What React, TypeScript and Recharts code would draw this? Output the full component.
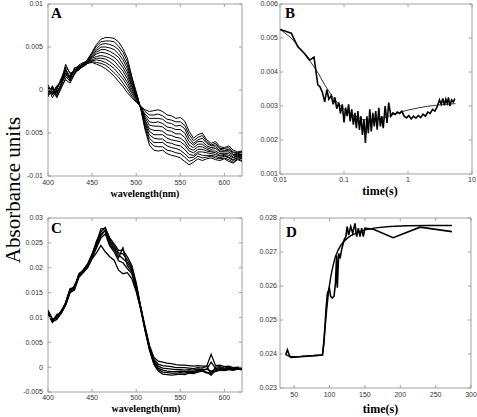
import { LineChart, Line, XAxis, YAxis, ReferenceArea } from 'recharts';

// absorbance values are kept in units of 1e-3 (tick labels show real units)
const wavelengths = [
  400, 405, 410, 415, 420, 425, 430, 435, 440, 445, 450, 455, 460, 465, 470, 475, 480, 485, 490, 495,
  500, 505, 510, 515, 520, 525, 530, 535, 540, 545, 550, 555, 560, 565, 570, 575, 580, 585, 590, 595,
  600, 605, 610, 615, 620,
];

// panel A: difference spectra
const spectraA = [
  [-0.3, 0.4, -0.6, 0.8, 1.6, 1.0, 2.0, 2.4, 2.8, 3.1, 3.2, 3.0, 2.8, 2.5, 2.1, 1.6, 1.0, 0.4, -0.3, -0.9,
    -1.4, -1.9, -2.3, -2.5, -2.4, -2.3, -2.5, -2.9, -3.0, -3.3, -3.2, -3.6, -4.8, -5.6, -5.2, -5.0, -5.8, -6.2, -6.0, -6.6,
    -6.7, -6.5, -7.0, -7.2, -7.1],
  [0.4, -0.2, 0.2, 1.2, 2.2, 1.5, 2.3, 2.7, 3.0, 3.2, 3.3, 3.2, 3.1, 2.9, 2.5, 2.0, 1.5, 0.8, 0.1, -0.7,
    -1.3, -1.9, -2.5, -2.9, -2.9, -2.8, -3.0, -3.4, -3.5, -3.7, -3.7, -4.1, -5.2, -5.9, -5.5, -5.3, -6.0, -6.4, -6.2, -6.8,
    -6.8, -6.7, -7.2, -7.3, -7.2],
  [-0.6, 0.5, -0.8, 0.3, 1.2, 0.8, 1.8, 2.5, 2.7, 3.1, 3.4, 3.5, 3.4, 3.2, 2.9, 2.5, 1.9, 1.3, 0.5, -0.4,
    -1.2, -2.0, -2.8, -3.3, -3.3, -3.3, -3.4, -3.8, -3.9, -4.2, -4.1, -4.5, -5.6, -6.2, -5.8, -5.6, -6.2, -6.5, -6.4, -6.9,
    -7.0, -6.9, -7.3, -7.4, -7.3],
  [0.1, -0.5, 0.4, 1.0, 3.0, 1.9, 2.1, 2.3, 3.1, 3.3, 3.5, 3.7, 3.7, 3.6, 3.3, 2.9, 2.4, 1.7, 0.9, -0.2,
    -1.0, -1.9, -3.0, -3.7, -3.8, -3.7, -3.9, -4.3, -4.4, -4.6, -4.6, -5.0, -6.0, -6.4, -6.0, -6.0, -6.5, -6.7, -6.6, -7.1,
    -7.1, -7.0, -7.5, -7.5, -7.5],
  [-0.8, 0.2, -0.3, 0.6, 1.8, 1.3, 2.5, 2.8, 2.9, 3.2, 3.7, 3.9, 4.0, 3.9, 3.7, 3.4, 2.8, 2.2, 1.3, 0.1,
    -0.9, -2.0, -3.2, -4.1, -4.2, -4.2, -4.3, -4.7, -4.8, -5.1, -5.1, -5.5, -6.4, -6.7, -6.3, -6.3, -6.7, -6.9, -6.8, -7.2,
    -7.2, -7.2, -7.6, -7.6, -7.6],
  [0.3, -0.9, 0.0, 1.4, 2.5, 1.1, 1.9, 2.6, 3.0, 3.3, 3.8, 4.2, 4.4, 4.3, 4.1, 3.8, 3.3, 2.6, 1.7, 0.4,
    -0.8, -2.0, -3.5, -4.5, -4.7, -4.7, -4.8, -5.2, -5.3, -5.5, -5.6, -6.0, -6.8, -7.0, -6.6, -6.6, -6.9, -7.1, -7.1, -7.4,
    -7.4, -7.4, -7.8, -7.7, -7.7],
  [-0.2, 0.1, -0.9, 0.2, 1.4, 1.7, 2.4, 2.4, 2.8, 3.4, 3.9, 4.4, 4.7, 4.7, 4.5, 4.2, 3.8, 3.0, 2.1, 0.6,
    -0.7, -2.0, -3.7, -4.8, -5.2, -5.2, -5.2, -5.6, -5.8, -5.9, -6.0, -6.4, -7.1, -7.3, -6.9, -6.9, -7.1, -7.2, -7.3, -7.6,
    -7.5, -7.6, -7.9, -7.7, -7.8],
  [0.6, -0.3, 0.5, 0.9, 2.0, 1.4, 2.2, 2.9, 3.2, 3.3, 4.0, 4.6, 5.0, 5.0, 4.9, 4.7, 4.2, 3.5, 2.5, 0.9,
    -0.6, -2.0, -3.9, -5.2, -5.6, -5.7, -5.7, -6.1, -6.2, -6.4, -6.5, -6.9, -7.5, -7.6, -7.2, -7.2, -7.3, -7.4, -7.5, -7.7,
    -7.6, -7.8, -8.1, -7.8, -7.9],
  [-0.5, 0.3, -0.4, 0.5, 2.7, 2.0, 2.0, 2.5, 2.9, 3.5, 4.2, 4.8, 5.3, 5.4, 5.3, 5.1, 4.7, 3.9, 2.9, 1.1,
    -0.4, -2.1, -4.1, -5.6, -6.1, -6.1, -6.1, -6.5, -6.7, -6.8, -7.0, -7.4, -7.9, -7.8, -7.4, -7.6, -7.6, -7.6, -7.7, -7.9,
    -7.7, -7.9, -8.2, -7.9, -8.0],
  [0.0, -0.6, 0.1, 1.1, 1.9, 1.2, 2.6, 2.7, 3.1, 3.4, 4.3, 5.1, 5.6, 5.7, 5.7, 5.6, 5.1, 4.4, 3.3, 1.4,
    -0.3, -2.0, -4.4, -6.0, -6.5, -6.6, -6.6, -7.0, -7.1, -7.3, -7.4, -7.8, -8.3, -8.1, -7.7, -7.9, -7.8, -7.7, -7.9, -8.0,
    -7.9, -8.1, -8.4, -8.0, -8.2],
  [0.2, -0.4, -0.2, 0.6, 2.4, 1.6, 2.2, 2.6, 3.0, 3.6, 4.4, 5.3, 5.9, 6.1, 6.1, 6.0, 5.6, 4.8, 3.7, 1.6,
    -0.2, -2.1, -4.6, -6.4, -7.0, -7.1, -7.0, -7.4, -7.6, -7.7, -7.9, -8.3, -8.7, -8.4, -8.0, -8.2, -8.0, -7.9, -8.1, -8.2,
    -8.0, -8.3, -8.5, -8.1, -8.3],
];

// panel C: absolute spectra
const spectraC = [
  [11.5, 9.5, 10.2, 11.2, 13.0, 15.8, 16.0, 18.8, 19.5, 20.8, 22.8, 25.0, 27.8, 27.9, 26.0, 24.8, 23.5, 23.5, 22.2, 20.5,
    17.0, 12.3, 8.2, 4.4, 2.0, 1.2, 1.0, 0.8, 0.7, 0.5, 0.4, 0.4, 0.3, 0.2, 0.3, 0.2, 0.2, 2.6, 0.3, 0.4,
    0.1, 0.2, -0.1, 0.0, -0.2],
  [11.0, 9.2, 10.6, 11.0, 12.6, 15.2, 16.4, 18.4, 19.6, 20.6, 22.6, 25.4, 27.2, 28.1, 25.6, 24.4, 23.0, 22.8, 21.6, 20.0,
    16.6, 12.1, 8.0, 4.1, 1.6, 0.6, 0.3, 0.2, 0.1, -0.1, -0.1, -0.1, -0.2, -0.3, -0.1, -0.2, 0.2, -1.4, 0.0, 0.1,
    -0.2, 0.0, -0.3, -0.1, -0.3],
  [11.3, 9.7, 9.8, 11.4, 12.8, 15.5, 15.7, 18.6, 19.2, 20.4, 22.2, 24.6, 26.8, 27.4, 25.2, 24.0, 22.6, 21.8, 21.0, 19.6,
    16.2, 12.0, 7.9, 4.0, 1.3, 0.2, -0.2, -0.3, -0.4, -0.5, -0.5, -0.6, -0.5, -0.6, -0.4, -0.5, -0.4, 1.0, -0.3, -0.1,
    -0.4, -0.2, -0.4, -0.2, -0.4],
  [10.8, 9.0, 10.4, 10.9, 12.5, 15.0, 16.2, 18.2, 19.4, 20.2, 22.0, 24.2, 26.4, 27.6, 24.8, 23.6, 22.0, 24.0, 20.4, 19.2,
    15.9, 11.9, 7.7, 3.8, 1.0, -0.2, -0.6, -0.8, -0.9, -0.9, -0.8, -0.9, -0.8, -0.9, -0.6, -0.7, -0.4, -0.8, -0.5, -0.3,
    -0.5, -0.3, -0.5, -0.3, -0.4],
  [11.2, 9.4, 10.0, 11.1, 12.9, 15.6, 15.9, 18.5, 19.1, 20.1, 21.9, 24.0, 26.0, 26.8, 24.4, 23.2, 21.4, 21.0, 19.8, 18.8,
    15.6, 11.8, 7.6, 3.7, 0.8, -0.5, -1.0, -1.1, -1.2, -1.2, -1.1, -1.2, -1.0, -1.1, -0.8, -0.7, -1.0, -1.6, -0.7, -0.5,
    -0.6, -0.4, -0.6, -0.4, -0.5],
  [11.0, 9.1, 9.6, 10.8, 12.5, 15.0, 15.5, 18.0, 19.0, 20.0, 21.8, 23.0, 24.5, 23.2, 22.2, 21.5, 19.5, 18.8, 19.0, 17.8,
    15.2, 11.8, 7.4, 3.5, 0.6, -0.8, -1.4, -1.5, -1.6, -1.5, -1.4, -1.5, -1.2, -1.3, -1.0, -0.8, -1.2, -0.9, -0.9, -0.6,
    -0.7, -0.5, -0.6, -0.4, -0.5],
];

// panel B: kinetic trace (log time) and fit
const bTimes = [
  0.01, 0.015, 0.019, 0.024, 0.029, 0.034, 0.039, 0.042, 0.046, 0.05,
  0.054, 0.058, 0.063, 0.068, 0.072, 0.077, 0.083, 0.088, 0.094, 0.1,
  0.106, 0.112, 0.118, 0.125, 0.132, 0.14, 0.148, 0.156, 0.165, 0.174,
  0.184, 0.194, 0.205, 0.216, 0.228, 0.24, 0.253, 0.267, 0.282, 0.297,
  0.313, 0.33, 0.35, 0.37, 0.39, 0.41, 0.44, 0.47, 0.5, 0.54,
  0.58, 0.63, 0.68, 0.74, 0.8, 0.87, 0.95, 1.03, 1.12, 1.22,
  1.33, 1.45, 1.58, 1.72, 1.87, 2.04, 2.22, 2.42, 2.63, 2.86,
  3.1, 3.3, 3.5, 3.7, 3.9, 4.1, 4.3, 4.5, 4.8, 5.1,
  5.4,
];
const bAbs = [
  5.25, 5.14, 4.74, 4.55, 4.35, 4.44, 3.62, 3.57, 3.4, 3.12,
  3.48, 3.2, 3.3, 3.05, 3.25, 2.92, 3.1, 2.78, 3.05, 2.52,
  2.95, 2.7, 3.05, 2.55, 2.9, 2.45, 2.8, 2.35, 2.85, 2.3,
  2.7, 2.15, 2.6, 1.91, 2.7, 2.2, 2.9, 2.25, 2.8, 2.4,
  2.85, 2.3, 2.95, 2.4, 2.7, 2.35, 3.0, 2.5, 3.1, 2.7,
  2.8, 2.75, 2.82, 2.78, 2.85, 2.7, 2.65, 2.72, 2.62, 2.7,
  2.64, 2.72, 2.66, 2.76, 2.7, 2.82, 2.78, 2.9, 2.85, 2.98,
  3.18, 3.05, 3.22, 3.02, 3.2, 3.08, 3.25, 3.0, 3.18, 3.12,
  3.22,
];
const bFitTimes = [0.01, 0.015, 0.02, 0.03, 0.04, 0.05, 0.07, 0.1, 0.15, 0.2, 0.3, 0.5, 0.7, 1, 1.5, 2, 3, 4, 5.5];
const bFitAbs = [5.26, 5.0, 4.72, 4.3, 3.95, 3.62, 3.2, 2.9, 2.7, 2.6, 2.58, 2.7, 2.8, 2.88, 2.95, 2.99, 3.03, 3.05, 3.07];

// panel D: slow trace and fit
const dTimes = [
  38, 40.5, 44, 46, 90, 92, 95, 97, 99.8, 101.7, 104, 106.4, 108.5, 110, 111, 113, 115, 117,
  120.5, 123, 125, 127, 130, 132.8, 136, 138.4, 140.8, 143, 145.5, 147.8, 150, 162, 190, 228, 273,
];
const dAbs = [
  23.98, 24.12, 23.92, 23.9, 23.97, 24.3, 25.3, 25.78, 25.93, 25.69, 25.65, 25.7, 26.1, 26.9, 25.95, 26.96, 26.81, 27.06,
  27.35, 27.45, 27.75, 27.5, 27.75, 27.55, 27.84, 27.45, 27.7, 27.45, 27.7, 27.45, 27.7, 27.67, 27.42, 27.73, 27.6,
];
const dFitTimes = [38, 45, 60, 75, 90, 93, 96, 99, 102, 105, 108, 112, 116, 120, 125, 130, 140, 150, 165, 185, 210, 240, 273];
const dFitAbs = [
  23.98, 23.92, 23.93, 23.95, 23.97, 24.6, 25.3, 25.9, 26.3, 26.6, 26.85, 27.05, 27.2, 27.3, 27.4, 27.48, 27.58, 27.65,
  27.71, 27.75, 27.77, 27.78, 27.78,
];

// ticks and their labels
const specXTicks = [400, 450, 500, 550, 600];
const specXLabels = ['400', '450', '500', '550', '600'];
const aYTicks = [-10, -5, 0, 5, 10];
const aYLabels = ['-0.01', '0.005', '0', '0.005', '0.01'];
const bXTicks = [0.01, 0.1, 1, 10];
const bXLabels = ['0.01', '0.1', '1', '10'];
const bYTicks = [1, 2, 3, 4, 5, 6];
const bYLabels = ['0.001', '0.002', '0.003', '0.004', '0.005', '0.006'];
const cYTicks = [-5, 0, 5, 10, 15, 20, 25, 30];
const cYLabels = ['-0.005', '0', '0.005', '0.01', '0.015', '0.02', '0.025', '0.03'];
const dXTicks = [50, 100, 150, 200, 250, 300];
const dXLabels = ['50', '100', '150', '200', '250', '300'];
const dYTicks = [23, 24, 25, 26, 27, 28];
const dYLabels = ['0.023', '0.024', '0.025', '0.026', '0.027', '0.028'];

const FRAME = '#a0a0a0';
const TICK_FONT = '"Liberation Sans", Arial, sans-serif';
const SERIF = '"Liberation Serif", "Times New Roman", serif';

const specRows = (spectra: number[][]) =>
  wavelengths.map((w, i) => {
    const row: Record<string, number> = { w };
    spectra.forEach((s, k) => {
      row['s' + k] = s[i];
    });
    return row;
  });

const pairs = (xs: number[], ys: number[]) => xs.map((t, i) => ({ t, v: ys[i] }));

const xTick = (ticks: number[], labels: string[], gap: number, plotH: number) => (props: any) => {
  const { x, y, payload } = props;
  const axisY = y - gap;
  return (
    <g>
      <line x1={x} x2={x} y1={axisY} y2={axisY - 3} stroke={FRAME} />
      <line x1={x} x2={x} y1={axisY - plotH} y2={axisY - plotH + 3} stroke={FRAME} />
      <text x={x} y={y} dy="0.71em" textAnchor="middle" fontSize={7} fontFamily={TICK_FONT} fill="#333">
        {labels[ticks.indexOf(payload.value)]}
      </text>
    </g>
  );
};

const yTick = (ticks: number[], labels: string[], gap: number, plotW: number) => (props: any) => {
  const { x, y, payload } = props;
  const axisX = x + gap;
  return (
    <g>
      <line x1={axisX} x2={axisX + 3} y1={y} y2={y} stroke={FRAME} />
      <line x1={axisX + plotW - 3} x2={axisX + plotW} y1={y} y2={y} stroke={FRAME} />
      <text x={x} y={y} dy="0.35em" textAnchor="end" fontSize={7} fontFamily={TICK_FONT} fill="#333">
        {labels[ticks.indexOf(payload.value)]}
      </text>
    </g>
  );
};

function SpectraPanel({ spectra, yTicks, yLabels, yDomain, top, xGap, xHeight, plotH, width }: any) {
  return (
    <LineChart width={250} height={200} data={specRows(spectra)} margin={{ top, right: 8, bottom: 0, left: 0 }}>
      <XAxis
        type="number"
        dataKey="w"
        domain={[400, 620]}
        ticks={specXTicks}
        interval={0}
        allowDataOverflow
        axisLine={false}
        tickLine={false}
        tickSize={0}
        tickMargin={xGap}
        height={xHeight}
        tick={xTick(specXTicks, specXLabels, xGap, plotH)}
      />
      <YAxis
        type="number"
        domain={yDomain}
        ticks={yTicks}
        interval={0}
        allowDataOverflow
        axisLine={false}
        tickLine={false}
        tickSize={0}
        tickMargin={5}
        width={48}
        tick={yTick(yTicks, yLabels, 5, 194)}
      />
      <ReferenceArea x1={400} x2={620} y1={yDomain[0]} y2={yDomain[1]} fill="none" stroke={FRAME} ifOverflow="visible" />
      {spectra.map((_: number[], k: number) => (
        <Line
          key={k}
          type="linear"
          dataKey={'s' + k}
          stroke="#000"
          strokeWidth={width}
          dot={false}
          isAnimationActive={false}
        />
      ))}
    </LineChart>
  );
}

function KineticPanel({ xDomain, xTicks, xLabels, log, yDomain, yTicks, yLabels, trace, fit, top, right, xGap, yGap, xHeight, plotW, plotH, fitWidth }: any) {
  return (
    <LineChart width={237} height={200} margin={{ top, right, bottom: 0, left: 0 }}>
      <XAxis
        type="number"
        dataKey="t"
        scale={log ? 'log' : 'linear'}
        domain={xDomain}
        ticks={xTicks}
        interval={0}
        allowDataOverflow
        axisLine={false}
        tickLine={false}
        tickSize={0}
        tickMargin={xGap}
        height={xHeight}
        tick={xTick(xTicks, xLabels, xGap, plotH)}
      />
      <YAxis
        type="number"
        domain={yDomain}
        ticks={yTicks}
        interval={0}
        allowDataOverflow
        axisLine={false}
        tickLine={false}
        tickSize={0}
        tickMargin={yGap}
        width={40}
        tick={yTick(yTicks, yLabels, yGap, plotW)}
      />
      <ReferenceArea x1={xDomain[0]} x2={xDomain[1]} y1={yDomain[0]} y2={yDomain[1]} fill="none" stroke={FRAME} ifOverflow="visible" />
      <Line data={fit} type="linear" dataKey="v" stroke="#000" strokeWidth={fitWidth} dot={false} isAnimationActive={false} />
      <Line data={trace} type="linear" dataKey="v" stroke="#000" strokeWidth={1.6} dot={false} isAnimationActive={false} />
    </LineChart>
  );
}

const at = (left: number, top: number): React.CSSProperties => ({ position: 'absolute', left, top });

export default function App() {
  return (
    <div style={{ position: 'absolute', left: 0, top: 0, width: 477, height: 417, background: '#fff', overflow: 'hidden' }}>
      <div style={at(0, 0)}>
        <SpectraPanel spectra={spectraA} yTicks={aYTicks} yLabels={aYLabels} yDomain={[-10, 10]} top={4} xGap={4} xHeight={24} plotH={172} width={1} />
      </div>
      <div style={at(240, 0)}>
        <KineticPanel
          xDomain={[0.01, 10]} xTicks={bXTicks} xLabels={bXLabels} log
          yDomain={[1, 6]} yTicks={bYTicks} yLabels={bYLabels}
          trace={pairs(bTimes, bAbs)} fit={pairs(bFitTimes, bFitAbs)}
          top={4} right={5} xGap={3.5} yGap={2} xHeight={26} plotW={192} plotH={170} fitWidth={0.8}
        />
      </div>
      <div style={at(0, 210)}>
        <SpectraPanel spectra={spectraC} yTicks={cYTicks} yLabels={cYLabels} yDomain={[-5, 30]} top={8} xGap={3} xHeight={18} plotH={174} width={1.3} />
      </div>
      <div style={at(240, 210)}>
        <KineticPanel
          xDomain={[30, 300]} xTicks={dXTicks} xLabels={dXLabels}
          yDomain={[23, 28]} yTicks={dYTicks} yLabels={dYLabels}
          trace={pairs(dTimes, dAbs)} fit={pairs(dFitTimes, dFitAbs)}
          top={8} right={6} xGap={4.5} yGap={3} xHeight={22} plotW={191} plotH={170} fitWidth={1.4}
        />
      </div>
      <svg width={477} height={417} style={{ position: 'absolute', left: 0, top: 0, pointerEvents: 'none' }}>
        <g fontFamily={SERIF} fill="#000">
          <text x={51} y={18} fontSize={15} fontWeight="bold">A</text>
          <text x={285} y={18} fontSize={15} fontWeight="bold">B</text>
          <text x={51} y={233} fontSize={15} fontWeight="bold">C</text>
          <text x={286} y={237} fontSize={15} fontWeight="bold">D</text>
          <text x={145} y={197} fontSize={10} fontWeight="bold" textAnchor="middle">wavelength(nm)</text>
          <text x={146} y={412} fontSize={10} fontWeight="bold" textAnchor="middle">wavelength(nm)</text>
          <text x={380} y={195} fontSize={12} fontWeight="bold" textAnchor="middle">time(s)</text>
          <text x={380.5} y={413} fontSize={12} fontWeight="bold" textAnchor="middle">time(s)</text>
          <text x={20} y={190} fontSize={21} textAnchor="middle" transform="rotate(-90 20 190)">Absorbance units</text>
        </g>
      </svg>
    </div>
  );
}
